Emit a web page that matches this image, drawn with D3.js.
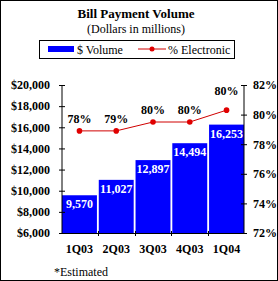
<!DOCTYPE html>
<html>
<head>
<script src="https://d3js.org/d3.v7.min.js"></script>
<style>
  body { margin: 0; background: #fff; }
  text { font-family: "Liberation Serif", "Times New Roman", serif; }
</style>
</head>
<body>
<div id="chart"></div>
<script>
// data
const quarters = ["1Q03", "2Q03", "3Q03", "4Q03", "1Q04"];
const volume = [9570, 11027, 12897, 14494, 16253];
const volumeLabels = ["9,570", "11,027", "12,897", "14,494", "16,253"];
const electronic = [78.9, 78.9, 79.5, 79.5, 80.3];
const electronicLabels = ["78%", "79%", "80%", "80%", "80%"];
const leftTicks = [6000, 8000, 10000, 12000, 14000, 16000, 18000, 20000];
const rightTicks = [72, 74, 76, 78, 80, 82];

const W = 278, H = 281;
const plot = { left: 62, right: 244, top: 85, bottom: 233 };

const svg = d3.select("#chart").append("svg")
    .attr("width", W).attr("height", H);

// outer frame
svg.append("rect").attr("x", 0.5).attr("y", 0.5)
    .attr("width", W - 1).attr("height", H - 1)
    .attr("fill", "#fff").attr("stroke", "#000");

// titles
svg.append("text").attr("x", 136).attr("y", 18)
    .attr("text-anchor", "middle").style("font-size", "13px").style("font-weight", "bold")
    .text("Bill Payment Volume");
svg.append("text").attr("x", 136).attr("y", 33)
    .attr("text-anchor", "middle").style("font-size", "12px")
    .text("(Dollars in millions)");

// legend
const lg = svg.append("g");
lg.append("rect").attr("x", 39.5).attr("y", 40.5).attr("width", 195).attr("height", 18)
    .attr("fill", "#fff").attr("stroke", "#000");
lg.append("rect").attr("x", 48).attr("y", 46).attr("width", 26).attr("height", 6).attr("fill", "#0000ff");
lg.append("text").attr("x", 77).attr("y", 54).style("font-size", "12px").text("$ Volume");
lg.append("line").attr("x1", 138).attr("x2", 166).attr("y1", 49).attr("y2", 49)
    .attr("stroke", "#d00000").attr("stroke-width", 1);
lg.append("circle").attr("cx", 152).attr("cy", 49).attr("r", 2.5).attr("fill", "#e00000");
lg.append("text").attr("x", 168).attr("y", 54).style("font-size", "12px").text("% Electronic");

// scales
const x = d3.scaleBand().domain(quarters).range([plot.left, plot.right]).paddingInner(0.05).paddingOuter(0);
const yL = d3.scaleLinear().domain([6000, 20000]).range([plot.bottom, plot.top]);
const yR = d3.scaleLinear().domain([72, 82]).range([plot.bottom, plot.top]);

// bars
svg.append("g").selectAll("rect")
    .data(volume)
    .join("rect")
    .attr("x", (d, i) => x(quarters[i]))
    .attr("y", d => yL(d))
    .attr("width", x.bandwidth())
    .attr("height", d => plot.bottom - yL(d))
    .attr("fill", "#0000ff");

// bar labels
svg.append("g").selectAll("text")
    .data(volume)
    .join("text")
    .attr("x", (d, i) => x(quarters[i]) + x.bandwidth() / 2)
    .attr("y", d => yL(d) + 13)
    .attr("text-anchor", "middle")
    .attr("fill", "#fff")
    .style("font-size", "12px").style("font-weight", "bold")
    .text((d, i) => volumeLabels[i]);

// left axis
const axL = svg.append("g").attr("transform", `translate(${plot.left},0)`)
    .call(d3.axisLeft(yL).tickValues(leftTicks).tickSize(3).tickPadding(9)
        .tickFormat(d => "$" + d3.format(",")(d)));
axL.select(".domain").remove();
axL.append("line").attr("y1", plot.top).attr("y2", plot.bottom).attr("stroke", "#000");
axL.selectAll(".tick line").attr("x1", -3).attr("x2", 3);
axL.selectAll("text").attr("fill", "#000").style("font-size", "12px").style("font-weight", "bold")
    .style("font-family", "Liberation Serif, serif");

// right axis
const axR = svg.append("g").attr("transform", `translate(${plot.right},0)`)
    .call(d3.axisRight(yR).tickValues(rightTicks).tickSize(3).tickPadding(6)
        .tickFormat(d => d + "%"));
axR.select(".domain").remove();
axR.append("line").attr("y1", plot.top).attr("y2", plot.bottom).attr("stroke", "#000");
axR.selectAll(".tick line").attr("x1", -3).attr("x2", 3);
axR.selectAll("text").attr("fill", "#000").style("font-size", "12px").style("font-weight", "bold")
    .style("font-family", "Liberation Serif, serif");

// x axis with ticks between categories
const xb = svg.append("g");
xb.append("line").attr("x1", plot.left).attr("x2", plot.right)
    .attr("y1", plot.bottom + 0.5).attr("y2", plot.bottom + 0.5).attr("stroke", "#000");
const step = x.step();
d3.range(1, quarters.length).forEach(i => {
    const tx = Math.round(plot.left + i * step - x.step() * x.paddingInner() / 2) + 0.5;
    xb.append("line").attr("x1", tx).attr("x2", tx)
        .attr("y1", plot.bottom - 2).attr("y2", plot.bottom + 3).attr("stroke", "#000");
});
xb.selectAll("text.cat")
    .data(quarters)
    .join("text")
    .attr("class", "cat")
    .attr("x", d => x(d) + x.bandwidth() / 2)
    .attr("y", 253)
    .attr("text-anchor", "middle")
    .style("font-size", "12px").style("font-weight", "bold")
    .text(d => d);

// % electronic line
const line = d3.line()
    .x((d, i) => x(quarters[i]) + x.bandwidth() / 2)
    .y(d => yR(d));
svg.append("path").datum(electronic)
    .attr("d", line).attr("fill", "none")
    .attr("stroke", "#d00000").attr("stroke-width", 1);
svg.append("g").selectAll("circle")
    .data(electronic)
    .join("circle")
    .attr("cx", (d, i) => x(quarters[i]) + x.bandwidth() / 2)
    .attr("cy", d => yR(d))
    .attr("r", 2.8)
    .attr("fill", "#e00000");
svg.append("g").selectAll("text")
    .data(electronic)
    .join("text")
    .attr("x", (d, i) => x(quarters[i]) + x.bandwidth() / 2)
    .attr("y", (d, i) => yR(d) - (i === electronic.length - 1 ? 15 : 8))
    .attr("text-anchor", "middle")
    .style("font-size", "12px").style("font-weight", "bold")
    .text((d, i) => electronicLabels[i]);

// footnote
svg.append("text").attr("x", 54).attr("y", 276)
    .style("font-size", "12px").text("*Estimated");
</script>
</body>
</html>
